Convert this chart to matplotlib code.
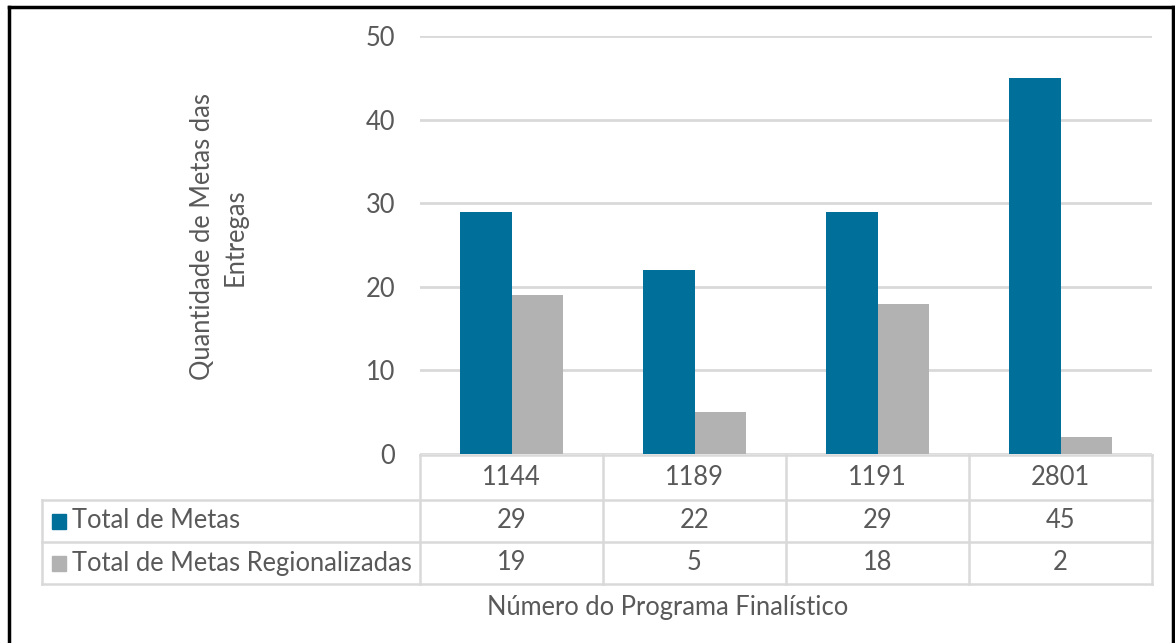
import matplotlib
matplotlib.use("Agg")
import matplotlib.pyplot as plt
from matplotlib.lines import Line2D
from matplotlib.patches import Rectangle

categories = ["1144", "1189", "1191", "2801"]
series_names = ["Total de Metas", "Total de Metas Regionalizadas"]
total_metas = [29, 22, 29, 45]
metas_regionalizadas = [19, 5, 18, 2]
yticks = [0, 10, 20, 30, 40, 50]

colors = ["#006F9A", "#B2B2B2"]
text_color = "#595959"
grid_color = "#D9D9D9"
plt.rcParams['font.family'] = ['Lato', 'DejaVu Sans']
FS = 18.4

W, H = 1175, 643
fig = plt.figure(figsize=(W / 100, H / 100), dpi=100)

def fx(px):
    return px / W

def fy(py):
    return 1 - py / H

# plot area in pixels
L, R, T, B = 420, 1152, 36, 454
ax = fig.add_axes([fx(L), fy(B), fx(R - L), (B - T) / H])
n = len(categories)
xs = list(range(n))
bw = 0.284
ax.bar([x - bw / 2 for x in xs], total_metas, width=bw, color=colors[0], zorder=3)
ax.bar([x + bw / 2 for x in xs], metas_regionalizadas, width=bw, color=colors[1], zorder=3)
ax.set_xlim(-0.5, n - 0.5)
ax.set_ylim(0, 50)
ax.set_yticks(yticks)
ax.set_yticklabels([str(t) for t in yticks], fontsize=FS, color=text_color)
ax.tick_params(axis='y', length=0, pad=18)
ax.set_xticks([])
for s in ax.spines.values():
    s.set_visible(False)
ax.grid(axis='y', color=grid_color, linewidth=2, zorder=0)
ax.set_axisbelow(True)

# y axis title
fig.text(fx(203), fy(237), "Quantidade de Metas das", rotation=90, ha='center', va='center',
         fontsize=FS, color=text_color)
fig.text(fx(235), fy(237), "Entregas", rotation=90, ha='center', va='center',
         fontsize=FS, color=text_color)

# data table
tl = 42
rows_y = [455, 500, 542, 584]
lw = 1.8

def hline(x0, x1, y):
    fig.add_artist(Line2D([fx(x0), fx(x1)], [fy(y), fy(y)], color=grid_color, lw=lw))

def vline(x, y0, y1):
    fig.add_artist(Line2D([fx(x), fx(x)], [fy(y0), fy(y1)], color=grid_color, lw=lw))

hline(L, R, rows_y[0])
for y in rows_y[1:]:
    hline(tl, R, y)
vline(tl, rows_y[1], rows_y[3])
col_edges = [L + (R - L) * i / n for i in range(n + 1)]
for cx in col_edges:
    vline(cx, rows_y[0], rows_y[3])

row_centers = [(rows_y[i] + rows_y[i + 1]) / 2 for i in range(3)]
for i, cat in enumerate(categories):
    cxp = ax.transData.transform((i, 0))[0]
    cxf = cxp / W
    fig.text(cxf, fy(row_centers[0]), cat, ha='center', va='center', fontsize=FS, color=text_color)
    fig.text(cxf, fy(row_centers[1]), str(total_metas[i]), ha='center', va='center', fontsize=FS, color=text_color)
    fig.text(cxf, fy(row_centers[2]), str(metas_regionalizadas[i]), ha='center', va='center', fontsize=FS, color=text_color)

for j, name in enumerate(series_names):
    yc = row_centers[j + 1]
    fig.add_artist(Rectangle((fx(52), fy(yc + 7.5)), fx(14), 15 / H, color=colors[j]))
    fig.text(fx(72), fy(yc), name, ha='left', va='center', fontsize=FS, color=text_color)

fig.text(fx(668), fy(607), "Número do Programa Finalístico", ha='center', va='center',
         fontsize=FS, color=text_color)

# outer border (top, left, right)
bc = "black"
fig.add_artist(Line2D([fx(9), fx(9)], [fy(7), 0], color=bc, lw=2.5))
fig.add_artist(Line2D([fx(1173), fx(1173)], [fy(7), 0], color=bc, lw=2.5))
fig.add_artist(Line2D([fx(9), fx(1173)], [fy(7), fy(7)], color=bc, lw=2.5))

fig.savefig("out.png", dpi=100)
